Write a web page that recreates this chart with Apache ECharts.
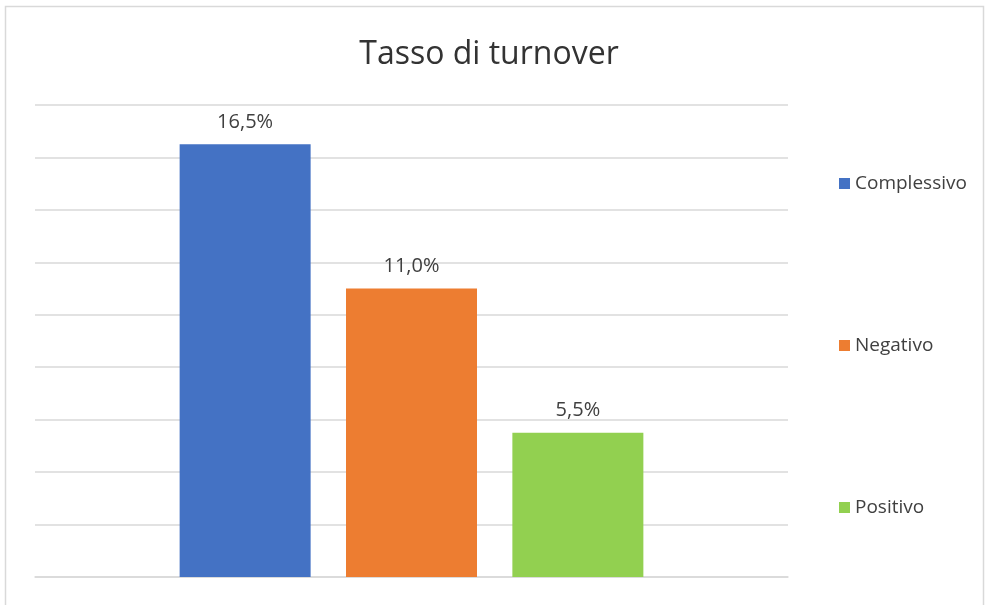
<!DOCTYPE html>
<html><head><meta charset="utf-8">
<script src="https://cdn.jsdelivr.net/npm/echarts@6/dist/echarts.min.js"></script>
<style>html,body{margin:0;padding:0;background:#fff}#c{width:985px;height:605px}</style>
</head><body><div id="c"></div>
<script>
const categories = [''];
const seriesNames = ['Complessivo', 'Negativo', 'Positivo'];
const seriesValues = [[0.165], [0.110], [0.055]];
const colors = ['#4472C4', '#ED7D31', '#92D050'];
const fontFam = '"Open Sans", sans-serif';
const fmt = v => (v * 100).toFixed(1).replace('.', ',') + '%';
const chart = echarts.init(document.getElementById('c'));
chart.setOption({
  backgroundColor: '#fff',
  animation: false,
  title: { text: 'Tasso di turnover', left: 484, textAlign: 'center', top: 34, textStyle: { fontFamily: fontFam, fontSize: 32, fontWeight: 'normal', color: '#333' } },
  legend: {
    orient: 'vertical', left: 834, top: 169, itemWidth: 11, itemHeight: 11, itemGap: 143,
    icon: 'rect', textStyle: { fontFamily: fontFam, fontSize: 19, color: '#404040' },
    data: seriesNames
  },
  grid: { left: 35, right: 197, top: 105, bottom: 28 },
  xAxis: { type: 'category', data: categories, axisLine: { lineStyle: { color: '#d9d9d9', width: 1.5 } }, axisTick: { show: false }, axisLabel: { show: false } },
  yAxis: { type: 'value', min: 0, max: 0.18, interval: 0.02, axisLabel: { show: false }, axisLine: { show: false }, axisTick: { show: false }, splitLine: { lineStyle: { color: '#d9d9d9', width: 1.5 } } },
  graphic: [{ type: 'rect', shape: { x: 5.5, y: 6.5, width: 978, height: 620 }, style: { fill: 'none', stroke: '#d9d9d9', lineWidth: 1.5 }, silent: true }],
  series: seriesNames.map((n, i) => ({
    name: n, type: 'bar', data: seriesValues[i], barWidth: 131, barGap: '27%',
    itemStyle: { color: colors[i] },
    label: { show: true, position: 'top', distance: 12, formatter: p => fmt(p.value), fontFamily: fontFam, fontSize: 20, color: '#404040' }
  }))
});
</script></body></html>
